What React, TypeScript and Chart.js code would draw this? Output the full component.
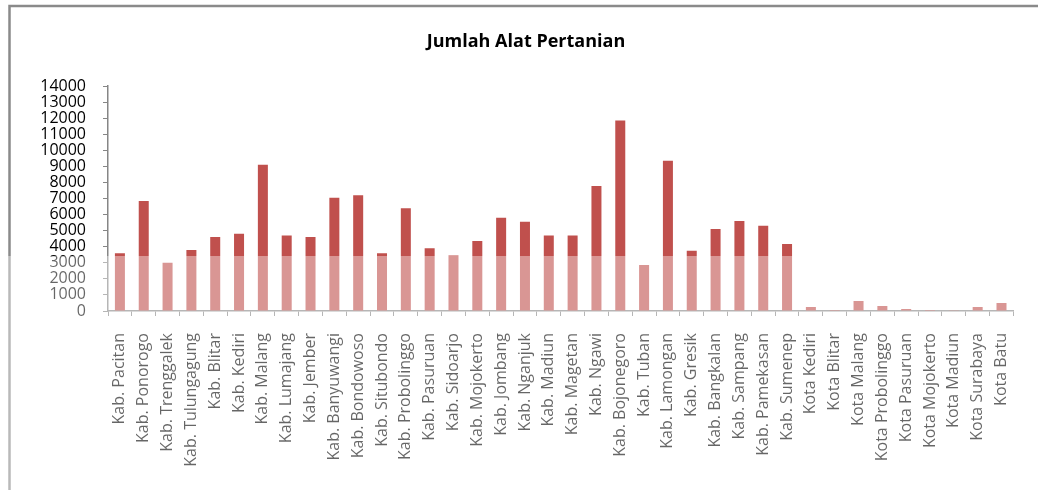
import React, { useEffect, useRef } from "react";
import { Chart, registerables } from "chart.js";

Chart.register(...registerables);

const categories = [
  "Kab. Pacitan", "Kab. Ponorogo", "Kab. Trenggalek", "Kab. Tulungagung", "Kab. Blitar",
  "Kab. Kediri", "Kab. Malang", "Kab. Lumajang", "Kab. Jember", "Kab. Banyuwangi",
  "Kab. Bondowoso", "Kab. Situbondo", "Kab. Probolinggo", "Kab. Pasuruan", "Kab. Sidoarjo",
  "Kab. Mojokerto", "Kab. Jombang", "Kab. Nganjuk", "Kab. Madiun", "Kab. Magetan",
  "Kab. Ngawi", "Kab. Bojonegoro", "Kab. Tuban", "Kab. Lamongan", "Kab. Gresik",
  "Kab. Bangkalan", "Kab. Sampang", "Kab. Pamekasan", "Kab. Sumenep", "Kota Kediri",
  "Kota Blitar", "Kota Malang", "Kota Probolinggo", "Kota Pasuruan", "Kota Mojokerto",
  "Kota Madiun", "Kota Surabaya", "Kota Batu",
];

const jumlahAlat = [
  3600, 6850, 3000, 3800, 4600,
  4800, 9100, 4700, 4600, 7050,
  7200, 3600, 6400, 3900, 3450,
  4350, 5800, 5550, 4700, 4700,
  7780, 11850, 2870, 9350, 3750,
  5100, 5600, 5300, 4170, 250,
  60, 620, 310, 120, 70,
  10, 250, 500,
];

const chartTitle = "Jumlah Alat Pertanian";
const yMax = 14000;
const yStep = 1000;

const framePlugin = {
  id: "frame",
  beforeDraw(chart: any) {
    const { ctx } = chart;
    ctx.save();
    ctx.fillStyle = "#ffffff";
    ctx.fillRect(0, 0, chart.width, chart.height);
    ctx.strokeStyle = "#8a8a8a";
    ctx.lineWidth = 2.5;
    ctx.beginPath();
    ctx.moveTo(9.5, 490);
    ctx.lineTo(9.5, 6);
    ctx.lineTo(chart.width, 6);
    ctx.stroke();
    ctx.fillStyle = "#000";
    ctx.font = "bold 18px 'Open Sans'";
    ctx.textAlign = "center";
    ctx.textBaseline = "middle";
    ctx.fillText(chartTitle, 526, 42);
    ctx.restore();
  },
  afterDraw(chart: any) {
    const { ctx } = chart;
    ctx.save();
    ctx.fillStyle = "rgba(255,255,255,0.4)";
    ctx.fillRect(0, 256, chart.width, chart.height - 256);
    ctx.restore();
  },
};

export default function App() {
  const ref = useRef<HTMLCanvasElement>(null);
  useEffect(() => {
    document.body.style.margin = "0";
    const canvas = ref.current!;
    const chart = new Chart(canvas, {
      type: "bar",
      data: {
        labels: categories,
        datasets: [
          {
            data: jumlahAlat,
            backgroundColor: "#C0504D",
            barPercentage: 0.42,
            categoryPercentage: 1,
          },
        ],
      },
      options: {
        responsive: false,
        animation: false,
        layout: { padding: { left: 0, right: 23, top: 86, bottom: 0 } },
        plugins: {
          legend: { display: false },
          tooltip: { enabled: false },
          title: { display: false },
        },
        scales: {
          x: {
            offset: true,
            grid: {
              offset: true,
              drawOnChartArea: false,
              drawTicks: true,
              tickLength: 5,
              color: "#868686",
            },
            border: { color: "#868686", width: 1.5 },
            ticks: {
              autoSkip: false,
              maxRotation: 90,
              minRotation: 90,
              padding: 17,
              color: "#000",
              font: { family: "Open Sans", size: 16 },
            },
            afterFit(scale: any) {
              scale.height = 182;
            },
          },
          y: {
            min: 0,
            max: yMax,
            grid: {
              drawOnChartArea: false,
              drawTicks: true,
              tickLength: 5,
              color: "#868686",
            },
            border: { color: "#868686", width: 1.5 },
            ticks: {
              stepSize: yStep,
              autoSkip: false,
              padding: 17,
              color: "#000",
              font: { family: "Open Sans", size: 16 },
              callback: (v: any) => String(v),
            },
            afterFit(scale: any) {
              scale.width = 108;
            },
          },
        },
      },
      plugins: [framePlugin],
    });
    return () => chart.destroy();
  }, []);
  return <canvas ref={ref} width={1038} height={493} style={{ display: "block" }} />;
}
